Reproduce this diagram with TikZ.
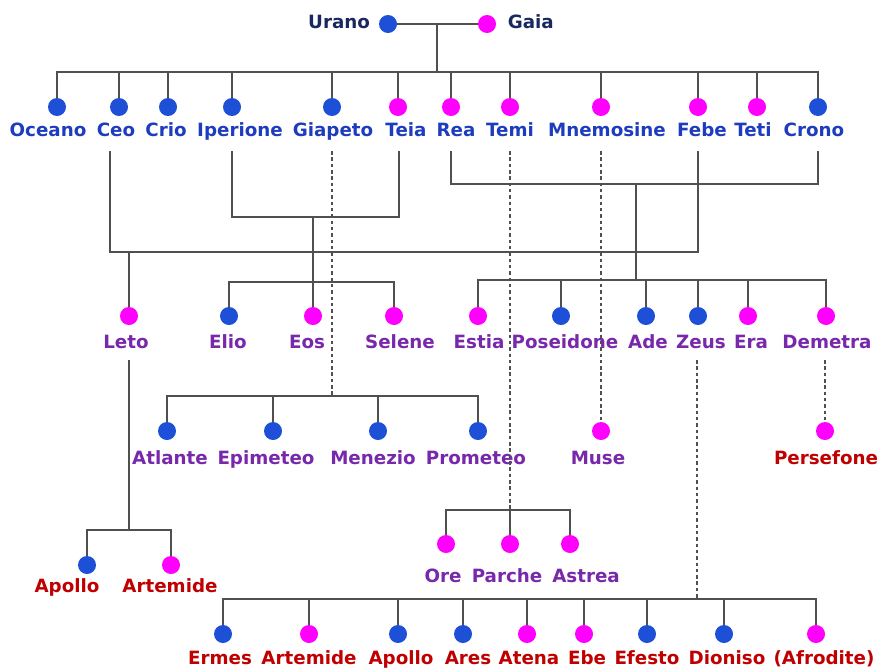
\documentclass[tikz,border=0pt]{standalone}
\usepackage{fontspec}
\setmainfont{DejaVu Sans}
\usetikzlibrary{positioning}

\definecolor{dotblue}{RGB}{30,80,215}
\definecolor{dotpink}{RGB}{255,0,255}
\definecolor{navytext}{RGB}{25,40,95}
\definecolor{bluetext}{RGB}{30,60,190}
\definecolor{purpletext}{RGB}{120,40,170}
\definecolor{redtext}{RGB}{192,0,0}
\definecolor{linegray}{RGB}{80,80,80}

\begin{document}
\begin{tikzpicture}[
        x=0.025cm, y=-0.025cm,
        male/.style={circle, fill=dotblue, minimum size=0.45cm, inner sep=0pt},
        female/.style={circle, fill=dotpink, minimum size=0.45cm, inner sep=0pt},
        lbl/.style={font=\fontsize{13}{15}\selectfont\bfseries, inner sep=0pt, text height=9.5pt, text depth=2.5pt},
        gen0/.style={lbl, text=navytext},
        gen1/.style={lbl, text=bluetext},
        gen2/.style={lbl, text=purpletext},
        gen3/.style={lbl, text=redtext},
        link/.style={draw=linegray, line width=1.2pt},
        descent/.style={draw=linegray, line width=1pt, dash pattern=on 2.5pt off 2pt}
    ]
    \useasboundingbox (0,0) rectangle (878,671);

    % Urano and Gaia
    \node[male] (urano) at (388,24) {};
    \node[female] (gaia) at (487,24) {};
    \node[gen0, left=6pt of urano] (urano-t) {Urano};
    \node[gen0, right=8pt of gaia] (gaia-t) {Gaia};

    % Titans
    \node[male] (oceano) at (57,107) {};
    \node[male] (ceo) at (119,107) {};
    \node[male] (crio) at (168,107) {};
    \node[male] (iperione) at (232,107) {};
    \node[male] (giapeto) at (332,107) {};
    \node[female] (teia) at (398,107) {};
    \node[female] (rea) at (451,107) {};
    \node[female] (temi) at (510,107) {};
    \node[female] (mnemosine) at (601,107) {};
    \node[female] (febe) at (698,107) {};
    \node[female] (teti) at (757,107) {};
    \node[male] (crono) at (818,107) {};
    \node[gen1] (oceano-t) at (48,132) {Oceano};
    \node[gen1] (ceo-t) at (116,132) {Ceo};
    \node[gen1] (crio-t) at (166,132) {Crio};
    \node[gen1] (iperione-t) at (240,132) {Iperione};
    \node[gen1] (giapeto-t) at (333,132) {Giapeto};
    \node[gen1] (teia-t) at (406,132) {Teia};
    \node[gen1] (rea-t) at (456,132) {Rea};
    \node[gen1] (temi-t) at (510,132) {Temi};
    \node[gen1] (mnemosine-t) at (607,132) {Mnemosine};
    \node[gen1] (febe-t) at (702,132) {Febe};
    \node[gen1] (teti-t) at (753,132) {Teti};
    \node[gen1] (crono-t) at (814,132) {Crono};

    % Second generation
    \node[female] (leto) at (129,316) {};
    \node[male] (elio) at (229,316) {};
    \node[female] (eos) at (313,316) {};
    \node[female] (selene) at (394,316) {};
    \node[female] (estia) at (478,316) {};
    \node[male] (poseidone) at (561,316) {};
    \node[male] (ade) at (646,316) {};
    \node[male] (zeus) at (698,316) {};
    \node[female] (era) at (748,316) {};
    \node[female] (demetra) at (826,316) {};
    \node[gen2] (leto-t) at (126,344) {Leto};
    \node[gen2] (elio-t) at (228,344) {Elio};
    \node[gen2] (eos-t) at (307,344) {Eos};
    \node[gen2] (selene-t) at (400,344) {Selene};
    \node[gen2] (estia-t) at (479,344) {Estia};
    \node[gen2] (poseidone-t) at (565,344) {Poseidone};
    \node[gen2] (ade-t) at (648,344) {Ade};
    \node[gen2] (zeus-t) at (701,344) {Zeus};
    \node[gen2] (era-t) at (751,344) {Era};
    \node[gen2] (demetra-t) at (827,344) {Demetra};

    % Children of Giapeto, Mnemosine, Demetra
    \node[male] (atlante) at (167,431) {};
    \node[male] (epimeteo) at (273,431) {};
    \node[male] (menezio) at (378,431) {};
    \node[male] (prometeo) at (478,431) {};
    \node[female] (muse) at (601,431) {};
    \node[female] (persefone) at (825,431) {};
    \node[gen2] (atlante-t) at (170,460) {Atlante};
    \node[gen2] (epimeteo-t) at (266,460) {Epimeteo};
    \node[gen2] (menezio-t) at (373,460) {Menezio};
    \node[gen2] (prometeo-t) at (476,460) {Prometeo};
    \node[gen2] (muse-t) at (598,460) {Muse};
    \node[gen3] (persefone-t) at (826,460) {Persefone};

    % Children of Temi
    \node[female] (ore) at (446,544) {};
    \node[female] (parche) at (510,544) {};
    \node[female] (astrea) at (570,544) {};
    \node[gen2] (ore-t) at (443,578) {Ore};
    \node[gen2] (parche-t) at (507,578) {Parche};
    \node[gen2] (astrea-t) at (586,578) {Astrea};

    % Children of Leto
    \node[male] (apollo1) at (87,565) {};
    \node[female] (artemide1) at (171,565) {};
    \node[gen3] (apollo1-t) at (67,588) {Apollo};
    \node[gen3] (artemide1-t) at (170,588) {Artemide};

    % Children of Zeus
    \node[male] (ermes) at (223,634) {};
    \node[female] (artemide2) at (309,634) {};
    \node[male] (apollo2) at (398,634) {};
    \node[male] (ares) at (463,634) {};
    \node[female] (atena) at (527,634) {};
    \node[female] (ebe) at (584,634) {};
    \node[male] (efesto) at (647,634) {};
    \node[male] (dioniso) at (724,634) {};
    \node[female] (afrodite) at (816,634) {};
    \node[gen3] (ermes-t) at (220,660) {Ermes};
    \node[gen3] (artemide2-t) at (309,660) {Artemide};
    \node[gen3] (apollo2-t) at (401,660) {Apollo};
    \node[gen3] (ares-t) at (468,660) {Ares};
    \node[gen3] (atena-t) at (529,660) {Atena};
    \node[gen3] (ebe-t) at (587,660) {Ebe};
    \node[gen3] (efesto-t) at (647,660) {Efesto};
    \node[gen3] (dioniso-t) at (727,660) {Dioniso};
    \node[gen3] (afrodite-t) at (824,660) {(Afrodite)};

    % Junction points
    \coordinate (uranogaia) at (437,24);
    \coordinate (titani) at (437,72);
    \coordinate (ceo-f) at (110,151);
    \coordinate (febe-f) at (698,151);
    \coordinate (ceofebe) at (129,252);
    \coordinate (iperione-f) at (232,151);
    \coordinate (teia-f) at (399,151);
    \coordinate (iperioneteia) at (313,217);
    \coordinate (sole) at (313,282);
    \coordinate (rea-f) at (451,151);
    \coordinate (crono-f) at (818,151);
    \coordinate (reacrono) at (636,184);
    \coordinate (olimpo) at (636,280);
    \coordinate (giapeto-f) at (332,151);
    \coordinate (giapetofigli) at (332,396);
    \coordinate (temi-f) at (510,151);
    \coordinate (temifigli) at (510,510);
    \coordinate (mnemosine-f) at (601,151);
    \coordinate (demetra-f) at (825,360);
    \coordinate (zeus-f) at (697,360);
    \coordinate (zeusfigli) at (697,599);
    \coordinate (leto-f) at (129,360);
    \coordinate (letofigli) at (129,530);

    % Urano + Gaia
    \draw[link] (urano) -- (gaia);
    \draw[link] (uranogaia) -- (titani);
    \draw[link] (oceano.north) |- (titani) -| (crono.north);
    \draw[link] (ceo.north) -- (ceo.north |- titani);
    \draw[link] (crio.north) -- (crio.north |- titani);
    \draw[link] (iperione.north) -- (iperione.north |- titani);
    \draw[link] (giapeto.north) -- (giapeto.north |- titani);
    \draw[link] (teia.north) -- (teia.north |- titani);
    \draw[link] (rea.north) -- (rea.north |- titani);
    \draw[link] (temi.north) -- (temi.north |- titani);
    \draw[link] (mnemosine.north) -- (mnemosine.north |- titani);
    \draw[link] (febe.north) -- (febe.north |- titani);
    \draw[link] (teti.north) -- (teti.north |- titani);

    % Ceo + Febe
    \draw[link] (ceo-f) -- (ceo-f |- ceofebe) -| (febe-f);
    \draw[link] (ceofebe) -- (leto.north);

    % Iperione + Teia
    \draw[link] (iperione-f) -- (iperione-f |- iperioneteia) -| (teia-f);
    \draw[link] (iperioneteia) -- (eos.north);
    \draw[link] (elio.north) |- (sole) -| (selene.north);

    % Crono + Rea
    \draw[link] (rea-f) -- (rea-f |- reacrono) -| (crono-f);
    \draw[link] (reacrono) -- (olimpo);
    \draw[link] (estia.north) |- (olimpo) -| (demetra.north);
    \draw[link] (poseidone.north) -- (poseidone.north |- olimpo);
    \draw[link] (ade.north) -- (ade.north |- olimpo);
    \draw[link] (zeus.north) -- (zeus.north |- olimpo);
    \draw[link] (era.north) -- (era.north |- olimpo);

    % Giapeto
    \draw[descent] (giapeto-f) -- (giapetofigli);
    \draw[link] (atlante.north) |- (giapetofigli) -| (prometeo.north);
    \draw[link] (epimeteo.north) -- (epimeteo.north |- giapetofigli);
    \draw[link] (menezio.north) -- (menezio.north |- giapetofigli);

    % Temi
    \draw[descent] (temi-f) -- (temifigli);
    \draw[link] (ore.north) |- (temifigli) -| (astrea.north);
    \draw[link] (parche.north) -- (temifigli);

    % Mnemosine, Demetra
    \draw[descent] (mnemosine-f) -- (muse.north);
    \draw[descent] (demetra-f) -- (persefone.north);

    % Leto
    \draw[link] (leto-f) -- (letofigli);
    \draw[link] (apollo1.north) |- (letofigli) -| (artemide1.north);

    % Zeus
    \draw[descent] (zeus-f) -- (zeusfigli);
    \draw[link] (ermes.north) |- (zeusfigli) -| (afrodite.north);
    \draw[link] (artemide2.north) -- (artemide2.north |- zeusfigli);
    \draw[link] (apollo2.north) -- (apollo2.north |- zeusfigli);
    \draw[link] (ares.north) -- (ares.north |- zeusfigli);
    \draw[link] (atena.north) -- (atena.north |- zeusfigli);
    \draw[link] (ebe.north) -- (ebe.north |- zeusfigli);
    \draw[link] (efesto.north) -- (efesto.north |- zeusfigli);
    \draw[link] (dioniso.north) -- (dioniso.north |- zeusfigli);

\end{tikzpicture}
\end{document}
